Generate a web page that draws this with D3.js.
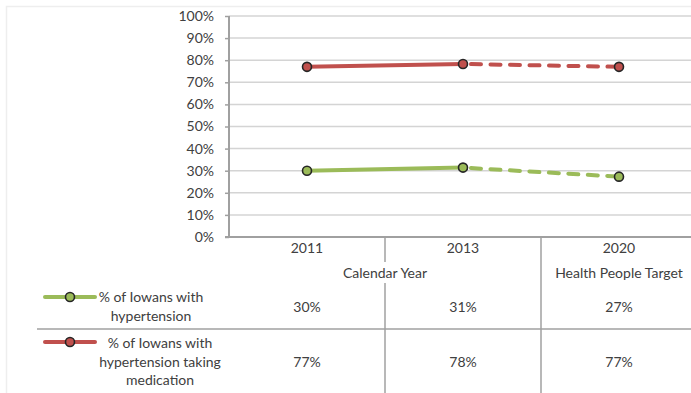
<!DOCTYPE html>
<html>
<head>
<meta charset="utf-8">
<script src="https://cdn.jsdelivr.net/npm/d3@7"></script>
<style>
  body { margin: 0; background: #fff; }
  text { font-family: Lato, "Open Sans", sans-serif; fill: #404040; }
</style>
</head>
<body>
<div id="chart"></div>
<script>
// Data
const years = ["2011", "2013", "2020"]
const yTicks = [0, 0.1, 0.2, 0.3, 0.4, 0.5, 0.6, 0.7, 0.8, 0.9, 1]
const hypertension = [0.30, 0.314, 0.273]
const medication = [0.77, 0.783, 0.77]
const seriesNames = [["% of Iowans with", "hypertension"], ["% of Iowans with", "hypertension taking", "medication"]]
const seriesColors = ["#9bbb59", "#c0504d"]

const W = 691, H = 393
const plot = {left: 229, top: 16, right: 697, bottom: 237}
const fontSize = 14

const svg = d3.select("#chart").append("svg")
    .attr("width", W)
    .attr("height", H)

// faint frame
svg.append("path")
    .attr("d", `M6.5,${H} V6.5 H${W}`)
    .attr("fill", "none")
    .attr("stroke", "#eeeeee")
    .attr("stroke-width", 1.5)

const x = d3.scaleBand()
    .domain(years)
    .range([plot.left, plot.right])
const y = d3.scaleLinear()
    .domain([0, 1])
    .range([plot.bottom, plot.top])

// gridlines
svg.append("g")
    .selectAll("line")
    .data(yTicks.slice(1))
    .join("line")
    .attr("x1", plot.left)
    .attr("x2", W)
    .attr("y1", d => y(d))
    .attr("y2", d => y(d))
    .attr("stroke", "#d4d4d4")
    .attr("stroke-width", 1.5)

// y axis
const yAxis = d3.axisLeft(y)
    .tickValues(yTicks)
    .tickFormat(d3.format(".0%"))
    .tickSize(4)
    .tickPadding(11)
svg.append("g")
    .attr("transform", `translate(${plot.left},0)`)
    .call(yAxis)
    .call(g => g.select(".domain").remove())
    .call(g => g.selectAll(".tick line").attr("stroke", "#a0a0a0").attr("stroke-width", 1.5))
    .call(g => g.selectAll(".tick text")
        .attr("font-size", fontSize)
        .attr("fill", "#404040")
        .style("font-family", "Lato, sans-serif"))

svg.append("line")
    .attr("x1", plot.left).attr("x2", plot.left)
    .attr("y1", plot.top).attr("y2", plot.bottom)
    .attr("stroke", "#a0a0a0").attr("stroke-width", 2)
svg.append("line")
    .attr("x1", plot.left - 4).attr("x2", W)
    .attr("y1", plot.bottom).attr("y2", plot.bottom)
    .attr("stroke", "#a0a0a0").attr("stroke-width", 2)

// lines
const cx = i => x(years[i]) + x.bandwidth() / 2
const line = d3.line()
    .x(d => cx(d.i))
    .y(d => y(d.v))

const allSeries = [hypertension, medication]
allSeries.forEach((vals, s) => {
    const pts = vals.map((v, i) => ({i, v}))
    svg.append("path")
        .datum(pts.slice(0, 2))
        .attr("d", line)
        .attr("fill", "none")
        .attr("stroke", seriesColors[s])
        .attr("stroke-width", 4)
    svg.append("path")
        .datum(pts.slice(1))
        .attr("d", line)
        .attr("fill", "none")
        .attr("stroke", seriesColors[s])
        .attr("stroke-width", 4)
        .attr("stroke-linecap", "round")
        .attr("stroke-dasharray", "10,9.5")
        .attr("stroke-dashoffset", -8)
    svg.append("g")
        .selectAll("circle")
        .data(pts)
        .join("circle")
        .attr("cx", d => cx(d.i))
        .attr("cy", d => y(d.v))
        .attr("r", 4.5)
        .attr("fill", seriesColors[s])
        .attr("stroke", "#262626")
        .attr("stroke-width", 1.6)
})

// data table below the axis
const table = svg.append("g")
const gridStroke = "#a0a0a0"

// column dividers
table.append("line")
    .attr("x1", x("2013")).attr("x2", x("2013"))
    .attr("y1", plot.bottom).attr("y2", 262)
    .attr("stroke", gridStroke).attr("stroke-width", 1.5)
table.append("line")
    .attr("x1", x("2013")).attr("x2", x("2013"))
    .attr("y1", 283).attr("y2", H)
    .attr("stroke", gridStroke).attr("stroke-width", 1.5)
table.append("line")
    .attr("x1", x("2020")).attr("x2", x("2020"))
    .attr("y1", plot.bottom).attr("y2", H)
    .attr("stroke", gridStroke).attr("stroke-width", 1.5)
// row separator
table.append("line")
    .attr("x1", 37).attr("x2", W)
    .attr("y1", 329).attr("y2", 329)
    .attr("stroke", gridStroke).attr("stroke-width", 1.5)

// year labels
table.selectAll(".yr")
    .data(years)
    .join("text")
    .attr("class", "yr")
    .attr("x", (d, i) => cx(i))
    .attr("y", 253)
    .attr("text-anchor", "middle")
    .attr("font-size", fontSize)
    .text(d => d)

table.append("text")
    .attr("x", x("2013"))
    .attr("y", 278)
    .attr("text-anchor", "middle")
    .attr("font-size", fontSize)
    .text("Calendar Year")
table.append("text")
    .attr("x", cx(2))
    .attr("y", 278)
    .attr("text-anchor", "middle")
    .attr("font-size", fontSize)
    .text("Health People Target")

// values and legend rows
const rowValueY = [312, 367]
const rowLegendY = [297, 342]
const rowNameY = [302, 348]
const rowNameX = [151, 160]
const fmt = d3.format(".0%")
allSeries.forEach((vals, s) => {
    table.selectAll(".val" + s)
        .data(vals)
        .join("text")
        .attr("x", (d, i) => cx(i))
        .attr("y", rowValueY[s])
        .attr("text-anchor", "middle")
        .attr("font-size", fontSize)
        .text(d => fmt(d))

    table.append("line")
        .attr("x1", 45).attr("x2", 95)
        .attr("y1", rowLegendY[s]).attr("y2", rowLegendY[s])
        .attr("stroke", seriesColors[s])
        .attr("stroke-width", 4)
        .attr("stroke-linecap", "round")
    table.append("circle")
        .attr("cx", 70).attr("cy", rowLegendY[s])
        .attr("r", 4.5)
        .attr("fill", seriesColors[s])
        .attr("stroke", "#262626")
        .attr("stroke-width", 1.6)

    table.append("text")
        .attr("x", rowNameX[s])
        .attr("y", rowNameY[s])
        .attr("text-anchor", "middle")
        .attr("font-size", fontSize)
        .selectAll("tspan")
        .data(seriesNames[s])
        .join("tspan")
        .attr("x", rowNameX[s])
        .attr("dy", (d, i) => i === 0 ? 0 : 18.5)
        .text(d => d)
})
</script>
</body>
</html>
